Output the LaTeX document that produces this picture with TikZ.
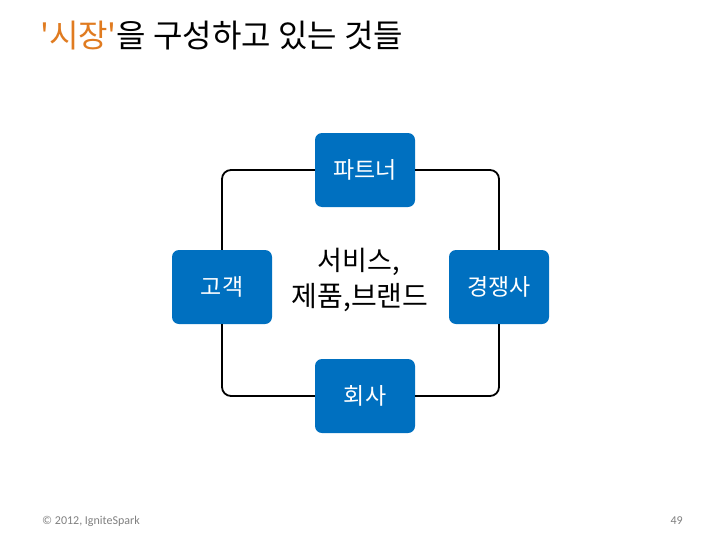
\documentclass[tikz,border=0pt]{standalone}
\usepackage{fontspec}
\newfontfamily\krfont{Noto Sans CJK KR}
\newfontfamily\footfont{Carlito}
\definecolor{boxblue}{HTML}{0070C0}
\definecolor{orng}{HTML}{E07B20}
\definecolor{foot}{HTML}{808080}
\tikzset{
  cbox/.style={fill=boxblue, rounded corners=7pt, minimum width=100pt, minimum height=74pt, text=white, font=\krfont\fontsize{23}{26}\selectfont, inner sep=0pt},
  ring/.style={draw=black, line width=1.8pt, rounded corners=9pt}
}
\begin{document}
\begin{tikzpicture}[x=1pt,y=-1pt]
\useasboundingbox (0,0) rectangle (728,546);
\fill[white] (0,0) rectangle (728,546);
% title
\node[anchor=west, inner sep=0pt, font=\krfont\fontsize{32}{36}\selectfont] (title) at (40,36) {\textcolor{orng}{'시장'}을 구성하고 있는 것들};
% boxes
\node[cbox] (top) at (365,170) {파트너};
\node[cbox] (left) at (222,287) {고객};
\node[cbox] (right) at (499,287) {경쟁사};
\node[cbox] (bot) at (365,396) {회사};
% ring connectors
\draw[ring] (top.west) -| (left.north);
\draw[ring] (top.east) -| (right.north);
\draw[ring] (bot.west) -| (left.south);
\draw[ring] (bot.east) -| (right.south);
% center text
\node[inner sep=0pt, font=\krfont\fontsize{27}{30}\selectfont] (c1) at (359,262) {서비스,};
\node[inner sep=0pt, font=\krfont\fontsize{28}{30}\selectfont] (c2) at (360,298) {제품,브랜드};
% footer
\node[anchor=west, inner sep=0pt, text=foot, font=\footfont\fontsize{12}{14}\selectfont] (copy) at (42,521) {© 2012, IgniteSpark};
\node[anchor=east, inner sep=0pt, text=foot, font=\footfont\fontsize{12}{14}\selectfont] (page) at (683,521) {49};
\end{tikzpicture}
\end{document}
